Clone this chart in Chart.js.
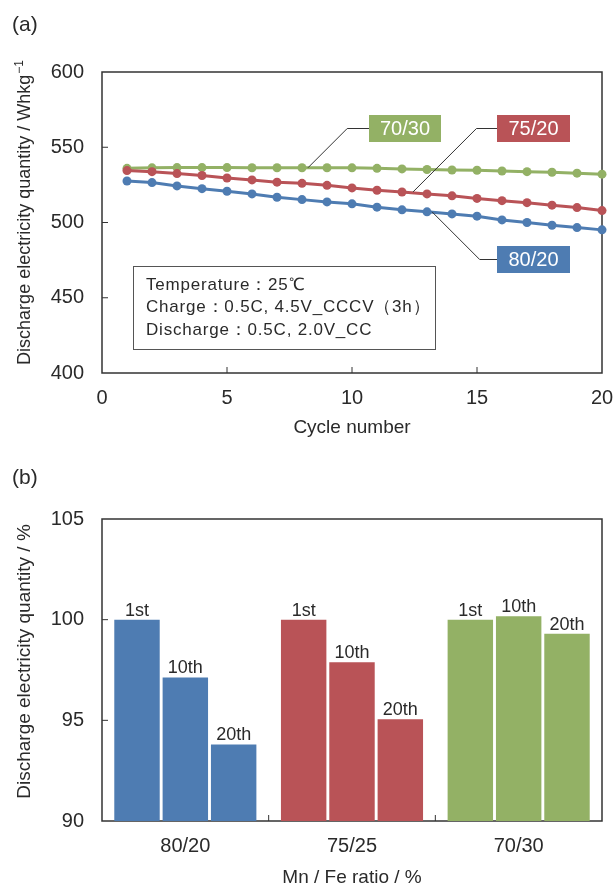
<!DOCTYPE html>
<html>
<head>
<meta charset="utf-8">
<script src="https://cdn.jsdelivr.net/npm/chart.js@4.4.0/dist/chart.umd.min.js"></script>
<style>
  html, body { margin: 0; background: #fff; overflow: hidden; }
  #wrap { position: relative; width: 614px; height: 885px; overflow: hidden; }
  .box { position: absolute; left: 0; width: 614px; }
  #boxA { top: 0; height: 450px; }
  #boxB { top: 450px; height: 445px; }
</style>
</head>
<body>
<div id="wrap">
  <div class="box" id="boxA"><canvas id="chartA"></canvas></div>
  <div class="box" id="boxB"><canvas id="chartB"></canvas></div>
</div>
<script>
// (a) discharge energy per cycle
const cycles = [1, 2, 3, 4, 5, 6, 7, 8, 9, 10, 11, 12, 13, 14, 15, 16, 17, 18, 19, 20];
const energy8020 = [527.6, 526.5, 524.3, 522.5, 520.8, 519.0, 516.8, 515.2, 513.7, 512.4,
                    510.2, 508.4, 507.1, 505.7, 504.2, 501.7, 500.0, 498.2, 496.6, 495.1];
const energy7520 = [534.5, 533.8, 532.5, 531.2, 529.6, 528.3, 526.8, 526.0, 524.7, 523.0,
                    521.4, 520.3, 519.0, 517.7, 516.0, 514.5, 513.2, 511.5, 509.9, 507.9];
const energy7030 = [536.0, 536.3, 536.5, 536.5, 536.5, 536.4, 536.4, 536.4, 536.4, 536.3,
                    536.0, 535.6, 535.2, 534.9, 534.7, 534.2, 533.8, 533.4, 532.8, 532.1];
const seriesNames = ["80/20", "75/20", "70/30"];
const xTicksA = [0, 5, 10, 15, 20];
const yTicksA = [400, 450, 500, 550, 600];
const conditions = ["Temperature：25℃", "Charge：0.5C, 4.5V_CCCV（3h）", "Discharge：0.5C, 2.0V_CC"];

// (b) retention after 1st / 10th / 20th cycle
const ratios = ["80/20", "75/25", "70/30"];
const cycleNames = ["1st", "10th", "20th"];
const retention1st = [100, 100, 100];
const retention10th = [97.13, 97.88, 100.17];
const retention20th = [93.8, 95.05, 99.3];
const yTicksB = [90, 95, 100, 105];

const BLUE = '#4e7cb2';
const RED = '#b95357';
const GREEN = '#93b165';
const TEXT = '#2a2a2a';
const AXIS = '#333333';
const FONT = '"Liberation Sans", Arial, sans-serif';

Chart.defaults.font.family = FONT;
Chart.defaults.color = TEXT;

function drawYTitle(ctx, cx, cy, main, sup, size) {
  ctx.save();
  ctx.fillStyle = TEXT;
  ctx.textBaseline = 'alphabetic';
  ctx.textAlign = 'left';
  ctx.font = size + 'px ' + FONT;
  const w1 = ctx.measureText(main).width;
  ctx.font = '12px ' + FONT;
  const w2 = sup ? ctx.measureText(sup).width : 0;
  ctx.translate(cx, cy);
  ctx.rotate(-Math.PI / 2);
  const start = -(w1 + w2) / 2;
  ctx.font = size + 'px ' + FONT;
  ctx.fillText(main, start, 0);
  if (sup) {
    ctx.font = '12px ' + FONT;
    ctx.fillText(sup, start + w1 + 1, -7);
  }
  ctx.restore();
}

function drawPanelLetter(ctx, text, y) {
  ctx.save();
  ctx.fillStyle = TEXT;
  ctx.font = '21px ' + FONT;
  ctx.textBaseline = 'middle';
  ctx.fillText(text, 12, y);
  ctx.restore();
}

function frame(ctx, a) {
  ctx.strokeStyle = AXIS;
  ctx.lineWidth = 1.5;
  ctx.strokeRect(a.left, a.top, a.right - a.left, a.bottom - a.top);
}

const decorA = {
  id: 'decorA',
  beforeDatasetsDraw(chart) {
    const {ctx, chartArea: a, scales: {x, y}} = chart;
    ctx.save();
    frame(ctx, a);
    ctx.lineWidth = 1;
    ctx.beginPath();
    xTicksA.slice(1, -1).forEach(v => {
      const px = x.getPixelForValue(v);
      ctx.moveTo(px, a.bottom); ctx.lineTo(px, a.bottom - 6);
    });
    yTicksA.slice(1, -1).forEach(v => {
      const py = y.getPixelForValue(v);
      ctx.moveTo(a.left, py); ctx.lineTo(a.left + 6, py);
    });
    ctx.stroke();
    ctx.restore();
  },
  afterDatasetsDraw(chart) {
    const {ctx, scales: {x, y}} = chart;
    ctx.save();
    // condition box
    ctx.fillStyle = '#fff';
    ctx.fillRect(133, 266, 302, 83);
    ctx.strokeStyle = '#555';
    ctx.lineWidth = 1;
    ctx.strokeRect(133.5, 266.5, 302, 83);
    ctx.fillStyle = TEXT;
    ctx.font = '17px ' + FONT;
    ctx.letterSpacing = '0.8px';
    ctx.textBaseline = 'middle';
    conditions.forEach((t, i) => ctx.fillText(t, 146, 285 + i * 22.5));
    ctx.letterSpacing = '0px';

    // series labels with leader lines
    const tags = [
      {name: seriesNames[2], color: GREEN, data: energy7030, i: 7, dx: 6, bx: 369, by: 115},
      {name: seriesNames[1], color: RED, data: energy7520, i: 11, dx: 11, bx: 497, by: 115},
      {name: seriesNames[0], color: BLUE, data: energy8020, i: 12, dx: 5, bx: 497, by: 246}
    ];
    tags.forEach(t => {
      const px = x.getPixelForValue(cycles[t.i]) + t.dx;
      const py = y.getPixelForValue(t.data[t.i]);
      const ly = t.by + 13.5;
      const ex = px + Math.abs(py - ly);
      ctx.strokeStyle = '#333';
      ctx.lineWidth = 1;
      ctx.beginPath();
      ctx.moveTo(px, py); ctx.lineTo(ex, ly); ctx.lineTo(t.bx, ly);
      ctx.stroke();
      const w = t.bx === 369 ? 72 : 73;
      ctx.fillStyle = t.color;
      ctx.fillRect(t.bx, t.by, w, 27);
      ctx.fillStyle = '#fff';
      ctx.font = '20px ' + FONT;
      ctx.textAlign = 'center';
      ctx.fillText(t.name, t.bx + w / 2, t.by + 14);
      ctx.textAlign = 'left';
    });
    ctx.restore();
  },
  afterDraw(chart) {
    drawYTitle(chart.ctx, 30, 213, 'Discharge electricity quantity / Whkg', '−1', 18);
    drawPanelLetter(chart.ctx, '(a)', 25);
  }
};

const decorB = {
  id: 'decorB',
  beforeDatasetsDraw(chart) {
    const {ctx, chartArea: a, scales: {x, y}} = chart;
    ctx.save();
    frame(ctx, a);
    ctx.lineWidth = 1;
    ctx.beginPath();
    for (let i = 0; i < ratios.length - 1; i++) {
      const px = (x.getPixelForValue(i) + x.getPixelForValue(i + 1)) / 2;
      ctx.moveTo(px, a.bottom); ctx.lineTo(px, a.bottom - 6);
    }
    yTicksB.slice(1, -1).forEach(v => {
      const py = y.getPixelForValue(v);
      ctx.moveTo(a.left, py); ctx.lineTo(a.left + 6, py);
    });
    ctx.stroke();
    ctx.restore();
  },
  afterDatasetsDraw(chart) {
    const {ctx} = chart;
    ctx.save();
    ctx.fillStyle = TEXT;
    ctx.font = '18px ' + FONT;
    ctx.textAlign = 'center';
    ctx.textBaseline = 'alphabetic';
    chart.data.datasets.forEach((ds, di) => {
      chart.getDatasetMeta(di).data.forEach(bar => {
        ctx.fillText(cycleNames[di], bar.x, bar.y - 4);
      });
    });
    ctx.restore();
  },
  afterDraw(chart) {
    drawYTitle(chart.ctx, 30, 211.5, 'Discharge electricity quantity / %', '', 19);
    drawPanelLetter(chart.ctx, '(b)', 28);
  }
};

function lineSet(name, values, color) {
  return {
    label: name,
    data: cycles.map((c, i) => ({x: c, y: values[i]})),
    borderColor: color,
    backgroundColor: color,
    borderWidth: 3,
    pointRadius: 4.5,
    pointBorderWidth: 0,
    tension: 0,
    clip: false
  };
}

const noGrid = {display: false, drawTicks: false};

new Chart(document.getElementById('chartA'), {
  type: 'line',
  data: {
    datasets: [
      lineSet(seriesNames[0], energy8020, BLUE),
      lineSet(seriesNames[1], energy7520, RED),
      lineSet(seriesNames[2], energy7030, GREEN)
    ]
  },
  options: {
    animation: false,
    responsive: true,
    maintainAspectRatio: false,
    layout: {padding: {top: 72, right: 12, left: 0, bottom: 0}},
    plugins: {legend: {display: false}, tooltip: {enabled: false}},
    scales: {
      x: {
        type: 'linear', min: 0, max: 20,
        afterBuildTicks: s => { s.ticks = xTicksA.map(v => ({value: v})); },
        grid: noGrid, border: {display: false},
        ticks: {padding: 13, font: {size: 20}, maxRotation: 0, autoSkip: false},
        title: {display: true, text: 'Cycle number', font: {size: 19}, padding: {top: 0, bottom: 10.6}},
        afterFit: s => { s.height = 77; s.paddingLeft = 0; s.paddingRight = 0; }
      },
      y: {
        min: 400, max: 600,
        afterBuildTicks: s => { s.ticks = yTicksA.map(v => ({value: v})); },
        grid: noGrid, border: {display: false},
        ticks: {padding: 18, font: {size: 20}},
        afterFit: s => { s.width = 102; s.paddingTop = 0; s.paddingBottom = 0; }
      }
    }
  },
  plugins: [decorA]
});

const barColors = [BLUE, RED, GREEN];

new Chart(document.getElementById('chartB'), {
  type: 'bar',
  data: {
    labels: ratios,
    datasets: [
      {label: cycleNames[0], data: retention1st, backgroundColor: barColors},
      {label: cycleNames[1], data: retention10th, backgroundColor: barColors},
      {label: cycleNames[2], data: retention20th, backgroundColor: barColors}
    ]
  },
  options: {
    animation: false,
    responsive: true,
    maintainAspectRatio: false,
    layout: {padding: {top: 69, right: 12, left: 0, bottom: 0}},
    datasets: {bar: {categoryPercentage: 0.87, barPercentage: 0.94}},
    plugins: {legend: {display: false}, tooltip: {enabled: false}},
    scales: {
      x: {
        grid: noGrid, border: {display: false},
        ticks: {padding: 13, font: {size: 20}, maxRotation: 0},
        title: {display: true, text: 'Mn / Fe ratio / %', font: {size: 19}, padding: {top: 0, bottom: 5.6}},
        afterFit: s => { s.height = 74; s.paddingLeft = 0; s.paddingRight = 0; }
      },
      y: {
        min: 90, max: 105,
        afterBuildTicks: s => { s.ticks = yTicksB.map(v => ({value: v})); },
        grid: noGrid, border: {display: false},
        ticks: {padding: 18, font: {size: 20}},
        afterFit: s => { s.width = 102; s.paddingTop = 0; s.paddingBottom = 0; }
      }
    }
  },
  plugins: [decorB]
});
</script>
</body>
</html>
